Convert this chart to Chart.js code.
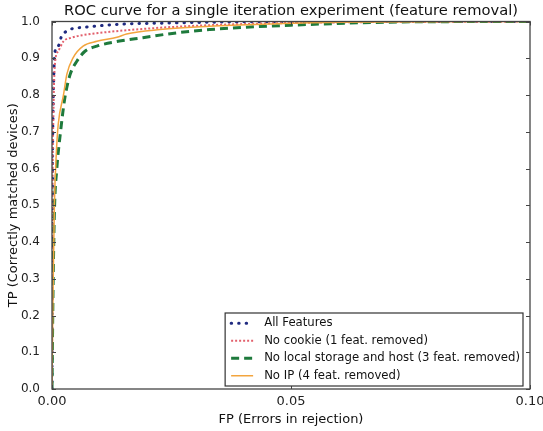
<!DOCTYPE html>
<html><head><meta charset="utf-8">
<script src="https://cdn.jsdelivr.net/npm/chart.js@4.4.1/dist/chart.umd.min.js"></script>
<style>html,body{margin:0;padding:0;background:#fff;}#wrap{width:543px;height:431px;}</style>
</head><body><div id="wrap"><canvas id="c" width="543" height="431"></canvas></div>
<script>
const titleText = "ROC curve for a single iteration experiment (feature removal)";
const xAxisTitle = "FP (Errors in rejection)";
const yAxisTitle = "TP (Correctly matched devices)";
const seriesLabels = ["All Features", "No cookie (1 feat. removed)", "No local storage and host (3 feat. removed)", "No IP (4 feat. removed)"];

const allFeaturesFP = [0, 0.0001, 0.0003, 0.0006, 0.0013, 0.002, 0.0031, 0.0044, 0.0065, 0.0136, 0.025, 0.04, 0.1];
const allFeaturesTP = [0, 0.55, 0.80, 0.916, 0.933, 0.96, 0.974, 0.981, 0.984, 0.992, 0.996, 0.999, 1.0];

const noCookieFP = [0, 0.0001, 0.0003, 0.0006, 0.0013, 0.0024, 0.0041, 0.0065, 0.0121, 0.0226, 0.033, 0.05, 0.1];
const noCookieTP = [0, 0.5, 0.75, 0.883, 0.919, 0.946, 0.956, 0.963, 0.972, 0.983, 0.99, 0.996, 1.0];

const noStorageFP = [0, 0.0002, 0.0005, 0.001, 0.0017, 0.0027, 0.0038, 0.0052, 0.0069, 0.0094, 0.0138, 0.019, 0.026, 0.033, 0.05, 0.075, 0.1];
const noStorageTP = [0, 0.25, 0.48, 0.598, 0.69, 0.793, 0.856, 0.892, 0.919, 0.933, 0.946, 0.956, 0.969, 0.978, 0.99, 0.999, 1.0];

const noIpFP = [0, 0.0002, 0.0005, 0.0009, 0.0013, 0.0024, 0.0031, 0.0044, 0.0065, 0.0094, 0.0136, 0.0156, 0.0226, 0.033, 0.045, 0.06, 0.1];
const noIpTP = [0, 0.25, 0.5, 0.64, 0.72, 0.80, 0.856, 0.901, 0.933, 0.946, 0.957, 0.966, 0.978, 0.987, 0.993, 0.998, 1.0];

const xTicks = [0, 0.05, 0.1];
const yTicks = [0, 0.1, 0.2, 0.3, 0.4, 0.5, 0.6, 0.7, 0.8, 0.9, 1.0];

function pts(xs, ys) { return xs.map((x, i) => ({x: x, y: ys[i]})); }

const FONT = "'DejaVu Sans', sans-serif";

const framePlugin = {
  id: 'frame',
  afterDatasetsDraw(chart) {
    const ctx = chart.ctx, a = chart.chartArea;
    const xs = chart.scales.x, ys = chart.scales.y;
    ctx.save();
    ctx.strokeStyle = '#444';
    ctx.lineWidth = 1.3;
    ctx.strokeRect(a.left, a.top, a.right - a.left, a.bottom - a.top);
    ctx.lineWidth = 1;
    ctx.beginPath();
    yTicks.forEach(v => {
      const y = Math.round(ys.getPixelForValue(v)) + 0.5;
      ctx.moveTo(a.left, y); ctx.lineTo(a.left + 4, y);
      ctx.moveTo(a.right, y); ctx.lineTo(a.right - 4, y);
    });
    xTicks.forEach(v => {
      const x = Math.round(xs.getPixelForValue(v)) + 0.5;
      ctx.moveTo(x, a.bottom); ctx.lineTo(x, a.bottom - 4);
      ctx.moveTo(x, a.top); ctx.lineTo(x, a.top + 4);
    });
    ctx.stroke();

    // title
    ctx.fillStyle = '#111';
    ctx.font = "14.7px " + FONT;
    ctx.textAlign = 'center';
    ctx.textBaseline = 'middle';
    ctx.fillText(titleText, (a.left + a.right) / 2, 11);

    // legend (lower right)
    const dsets = chart.data.datasets;
    ctx.font = "11.7px " + FONT;
    let maxW = 0;
    dsets.forEach(d => { maxW = Math.max(maxW, ctx.measureText(d.label).width); });
    const rowH = 17.5, handleW = 24, gap = 11, padL = 4, padR = 3, padY = 1.5;
    const boxW = padL + handleW + gap + maxW + padR;
    const boxH = padY * 2 + rowH * dsets.length;
    const bx = a.right - 7 - boxW, by = a.bottom - 3 - boxH;
    ctx.fillStyle = '#fff';
    ctx.fillRect(bx, by, boxW, boxH);
    ctx.strokeStyle = '#333';
    ctx.lineWidth = 1.2;
    ctx.strokeRect(bx, by, boxW, boxH);
    dsets.forEach((d, i) => {
      const cy = by + padY + rowH * (i + 0.5);
      ctx.save();
      ctx.strokeStyle = d.borderColor;
      ctx.lineWidth = d.borderWidth;
      ctx.setLineDash(d.borderDash || []);
      ctx.lineCap = d.borderCapStyle || 'butt';
      ctx.beginPath();
      ctx.moveTo(bx + padL + 2, cy); ctx.lineTo(bx + padL + handleW, cy);
      ctx.stroke();
      ctx.restore();
      ctx.fillStyle = '#111';
      ctx.textAlign = 'left';
      ctx.textBaseline = 'middle';
      ctx.fillText(d.label, bx + padL + handleW + gap, cy);
    });
    ctx.restore();
  }
};

new Chart(document.getElementById('c'), {
  type: 'scatter',
  data: {
    datasets: [
      { label: seriesLabels[0], data: pts(allFeaturesFP, allFeaturesTP), borderColor: '#1f2a80', borderWidth: 3, borderDash: [0.5, 7], borderCapStyle: 'round', order: 4 },
      { label: seriesLabels[1], data: pts(noCookieFP, noCookieTP), borderColor: '#e2606c', borderWidth: 2, borderDash: [2, 2], order: 3 },
      { label: seriesLabels[2], data: pts(noStorageFP, noStorageTP), borderColor: '#1e7a3c', borderWidth: 3, borderDash: [8, 5], order: 2 },
      { label: seriesLabels[3], data: pts(noIpFP, noIpTP), borderColor: '#f3a53e', borderWidth: 1.5, order: 1 }
    ].map(d => Object.assign(d, { showLine: true, pointRadius: 0, pointHoverRadius: 0, fill: false, cubicInterpolationMode: 'monotone', backgroundColor: d.borderColor }))
  },
  options: {
    responsive: false,
    animation: false,
    events: [],
    layout: { padding: { top: 21.5, right: 13, left: 0, bottom: 0 }, autoPadding: false },
    plugins: { legend: { display: false }, tooltip: { enabled: false }, title: { display: false } },
    scales: {
      x: {
        type: 'linear', min: 0, max: 0.1,
        afterBuildTicks: s => { s.ticks = xTicks.map(v => ({ value: v })); },
        afterFit: s => { s.height = 42; s.paddingLeft = 0; s.paddingRight = 0; },
        grid: { display: false, drawTicks: false },
        border: { display: false },
        ticks: { callback: v => Number(v).toFixed(2), font: { family: FONT, size: 13 }, color: '#222', padding: 5, maxRotation: 0, autoSkip: false },
        title: { display: true, text: xAxisTitle, font: { family: FONT, size: 13 }, color: '#111', padding: { top: 0, bottom: 4 } }
      },
      y: {
        type: 'linear', min: 0, max: 1.0,
        afterBuildTicks: s => { s.ticks = yTicks.map(v => ({ value: v })); },
        afterFit: s => { s.width = 52; s.paddingTop = 0; s.paddingBottom = 0; },
        grid: { display: false },
        border: { display: false },
        ticks: { callback: v => Number(v).toFixed(1), font: { family: FONT, size: 12 }, color: '#222', padding: 4, autoSkip: false },
        title: { display: true, text: yAxisTitle, font: { family: FONT, size: 13 }, color: '#111', padding: { top: 6, bottom: 0 } }
      }
    }
  },
  plugins: [framePlugin]
});
</script>
</body></html>
